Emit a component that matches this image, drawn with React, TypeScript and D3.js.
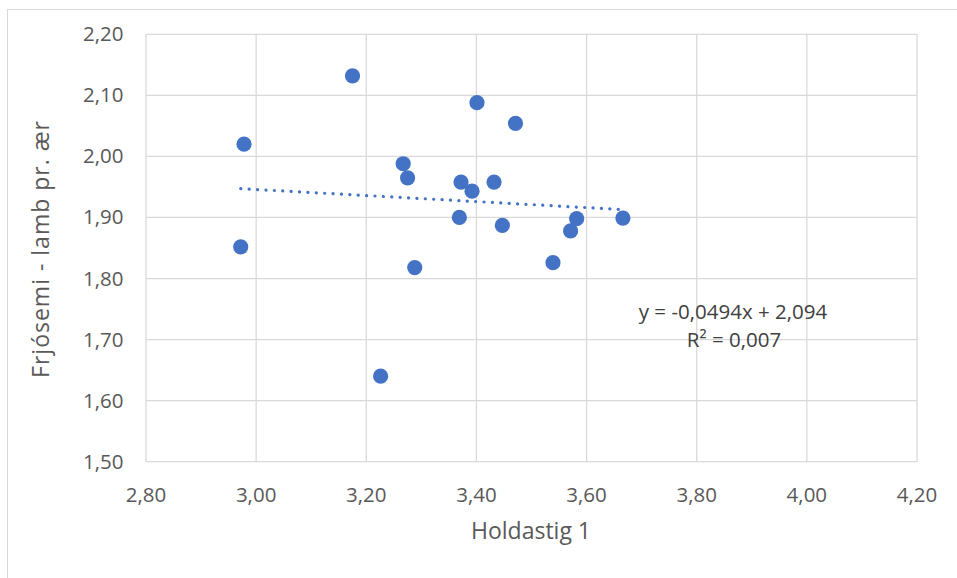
import React from "react";
import * as d3 from "d3";

const xValues = [2.972, 2.978, 3.175, 3.401, 3.471, 3.267, 3.275, 3.372, 3.392, 3.432, 3.369, 3.447, 3.582, 3.571, 3.666, 3.539, 3.288, 3.226];
const yValues = [1.852, 2.020, 2.132, 2.088, 2.054, 1.988, 1.965, 1.958, 1.943, 1.958, 1.900, 1.887, 1.898, 1.878, 1.899, 1.826, 1.818, 1.640];
const xTicks = [2.8, 3.0, 3.2, 3.4, 3.6, 3.8, 4.0, 4.2];
const yTicks = [1.5, 1.6, 1.7, 1.8, 1.9, 2.0, 2.1, 2.2];
const slope = -0.0494;
const intercept = 2.094;
const equationText = "y = -0,0494x + 2,094";
const r2Label = "R² = 0,007";
const xTitle = "Holdastig 1";
const yTitle = "Frjósemi - lamb pr. ær";

const W = 957;
const H = 578;
const left = 146, right = 917, top = 34.3, bottom = 461.7;
const FONT = "'Open Sans', 'Noto Sans', sans-serif";
const fmt = (v: number) => v.toFixed(2).replace(".", ",");

export default function App() {
  const x = d3.scaleLinear().domain([2.8, 4.2]).range([left, right]);
  const y = d3.scaleLinear().domain([1.5, 2.2]).range([bottom, top]);
  const xMin = d3.min(xValues) as number;
  const xMax = d3.max(xValues) as number;
  const line = d3.line<number>().x((d) => x(d)).y((d) => y(slope * d + intercept));
  return (
    <svg width={W} height={H} style={{ position: "absolute", left: 0, top: 0, display: "block" }}>
      <rect x={0} y={0} width={W} height={H} fill="#fff" />
      <rect x={7.5} y={9.5} width={W + 20} height={H + 20} fill="none" stroke="#d9d9d9" strokeWidth={1} />
      {xTicks.map((t) => (
        <line key={"gx" + t} x1={x(t)} x2={x(t)} y1={top} y2={bottom} stroke="#d9d9d9" strokeWidth={1.3} />
      ))}
      {yTicks.map((t) => (
        <line key={"gy" + t} x1={left} x2={right} y1={y(t)} y2={y(t)} stroke="#d9d9d9" strokeWidth={1.3} />
      ))}
      {yTicks.map((t) => (
        <text key={"ly" + t} x={123.5} y={y(t) + 7} textAnchor="end" fontFamily={FONT} fontSize={20.5} fill="#595959">
          {fmt(t)}
        </text>
      ))}
      {xTicks.map((t) => (
        <text key={"lx" + t} x={x(t)} y={502} textAnchor="middle" fontFamily={FONT} fontSize={20.5} fill="#595959">
          {fmt(t)}
        </text>
      ))}
      <path d={line([xMin, xMax]) || ""} fill="none" stroke="#4472C4" strokeWidth={3.2} strokeDasharray="0.1 8.3" strokeLinecap="round" />
      {xValues.map((xv, i) => (
        <circle key={"p" + i} cx={x(xv)} cy={y(yValues[i])} r={7.6} fill="#4472C4" />
      ))}
      <text x={733} y={319} textAnchor="middle" fontFamily={FONT} fontSize={20.5} fill="#404040">
        {equationText}
      </text>
      <text x={734} y={347} textAnchor="middle" fontFamily={FONT} fontSize={20.5} fill="#404040">
        {r2Label}
      </text>
      <text x={531} y={539} textAnchor="middle" fontFamily={FONT} fontSize={23} fill="#595959">
        {xTitle}
      </text>
      <text transform={`translate(49,249) rotate(-90)`} textAnchor="middle" fontFamily={FONT} fontSize={23} letterSpacing={1} fill="#595959">
        {yTitle}
      </text>
    </svg>
  );
}
